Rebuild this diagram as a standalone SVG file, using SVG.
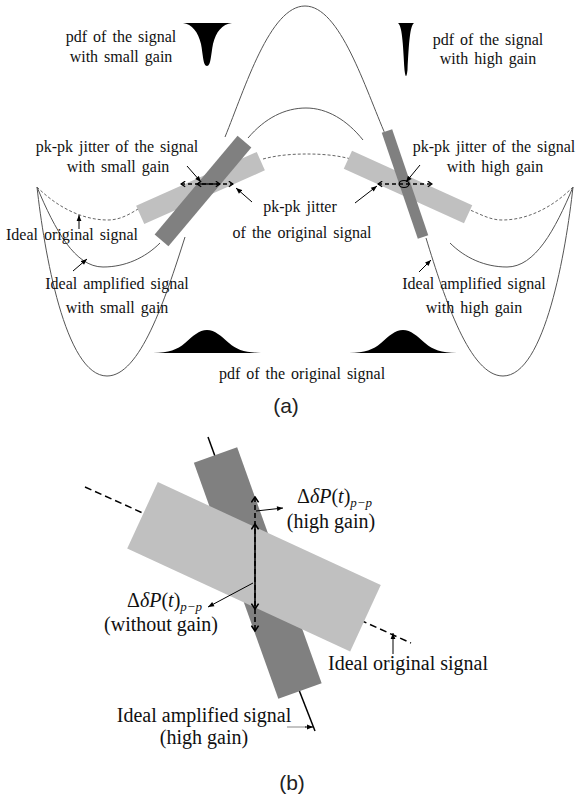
<svg xmlns="http://www.w3.org/2000/svg" width="576" height="798" viewBox="0 0 576 798">
<defs>
<style>
.t{font-family:"Liberation Serif","Times New Roman",serif;font-size:16px;fill:#111;word-spacing:2px}
.tb{font-family:"Liberation Serif","Times New Roman",serif;font-size:20px;fill:#111}
.cap{font-family:"Liberation Sans",Arial,sans-serif;font-size:21px;fill:#222}
.cv{fill:none;stroke:#555;stroke-width:1}
.dcv{fill:none;stroke:#666;stroke-width:1;stroke-dasharray:3 2}
.lb{fill:#c0c0c0}
.db{fill:#808080}
.ptr{fill:none;stroke:#000;stroke-width:1;marker-end:url(#ah)}
.dj{fill:none;stroke:#000;stroke-width:1.3;stroke-dasharray:4 3;marker-start:url(#ch);marker-end:url(#ch)}
.sj{fill:none;stroke:#000;stroke-width:1.3;marker-start:url(#ch);marker-end:url(#ch)}
.djb{fill:none;stroke:#000;stroke-width:1.6;stroke-dasharray:5 3;marker-start:url(#chb);marker-end:url(#chb)}
.sjb{fill:none;stroke:#000;stroke-width:1.6;marker-start:url(#chb);marker-end:url(#chb)}
</style>
<marker id="ah" viewBox="0 0 10 10" refX="10" refY="5" markerWidth="7" markerHeight="6" markerUnits="userSpaceOnUse" orient="auto"><path d="M0,1 L10,5 L0,9 Z" fill="#000"/></marker>
<marker id="ch" viewBox="0 0 10 10" refX="9" refY="5" markerWidth="7" markerHeight="7" markerUnits="userSpaceOnUse" orient="auto-start-reverse"><path d="M3,1 L9,5 L3,9" fill="none" stroke="#000" stroke-width="1.8"/></marker>
<marker id="chb" viewBox="0 0 10 10" refX="9" refY="5" markerWidth="9" markerHeight="9" markerUnits="userSpaceOnUse" orient="auto-start-reverse"><path d="M3,1 L9,5 L3,9" fill="none" stroke="#000" stroke-width="1.8"/></marker>
</defs>
<rect width="576" height="798" fill="#fff"/>

<!-- (a) curves -->
<g id="curve-high-gain">
<path class="cv" d="M37,187 C44,250 65,376 107,376 C140,376 165,300 185,237"/>
<path class="cv" d="M225,137 C245,88 270,6 305,6 C340,6 365,88 386,136"/>
<path class="cv" d="M573,187 C566,250 545,376 503,376 C470,376 445,300 426,238"/>
</g>
<g id="curve-small-gain">
<path class="cv" d="M37,187 C55,230 75,267 103,267 C125,267 145,258 160,243"/>
<path class="cv" d="M248,138 C265,118 285,108 306,108 C327,108 347,120 363,140"/>
<path class="cv" d="M573,187 C555,230 535,267 507,267 C485,267 465,258 450,243"/>
</g>
<g id="curve-original">
<path class="dcv" d="M37,187 C55,205 80,220 108,220 C120,220 130,214 138,209"/>
<path class="dcv" d="M263,159 C278,155 293,154 307,154 C321,154 336,155 351,159"/>
<path class="dcv" d="M573,187 C555,205 530,220 502,220 C490,220 480,214 470,210"/>
</g>

<!-- (a) bars -->
<g id="bar-left-light"><rect class="lb" x="134.5" y="178" width="132" height="20" transform="rotate(-24 200.5 188)"/></g>
<g id="bar-left-dark"><rect class="db" x="138.5" y="182" width="129" height="18" transform="rotate(-50 203 191)"/></g>
<g id="bar-right-light"><rect class="lb" x="342" y="177" width="132" height="20" transform="rotate(24.4 408 187)"/></g>
<g id="bar-right-dark"><rect class="db" x="349" y="178.5" width="112" height="11" transform="rotate(71.2 405 184)"/></g>

<!-- (a) pdf shapes -->
<g id="pdf-small-gain"><path d="M183,23 L232,23 C222,24 216,32 213,44 C211,54 211,66 207,66 C203,66 203,54 201,44 C198,32 192,24 183,23 Z" fill="#000"/></g>
<g id="pdf-high-gain"><path d="M398,23 L414,23 C410,26 409,42 407.5,70 Q406,82 404.5,70 C403,42 402,26 398,23 Z" fill="#000"/></g>
<g id="pdf-original-left"><path d="M153,353 C169,352.5 177,350 185,343 C193,336 199,330 207,330 C215,330 221,336 229,343 C237,350 245,352.5 261,353 Z" fill="#000"/></g>
<g id="pdf-original-right"><path d="M349,353 C365,352.5 373,350 381,343 C389,336 395,330 403,330 C411,330 417,336 425,343 C433,350 441,352.5 457,353 Z" fill="#000"/></g>

<!-- (b) shapes -->
<g id="b-amplified-line"><line x1="208" y1="437" x2="216" y2="459" stroke="#000" stroke-width="1.5"/><line x1="299" y1="690" x2="315" y2="731" stroke="#000" stroke-width="1.5"/></g>
<g id="b-original-line"><line x1="85" y1="487" x2="145" y2="514" stroke="#000" stroke-width="1.5" stroke-dasharray="7 4"/><line x1="360" y1="620" x2="411" y2="643" stroke="#000" stroke-width="1.5" stroke-dasharray="7 4"/></g>
<g id="b-bar-dark"><rect class="db" x="132.4" y="550" width="250.7" height="46" transform="rotate(70.3 257.75 573)"/></g>
<g id="b-bar-light"><rect class="lb" x="131.2" y="530.25" width="245.6" height="73" transform="rotate(24.8 254 566.75)"/></g>

<!-- connectors -->
<g id="connectors">
<path class="dj" d="M181,184 L233,184"/>
<path class="sj" d="M197,184 L220,184"/>
<path class="dj" d="M378,184 L432,184"/>
<ellipse cx="404" cy="184" rx="5" ry="3.5" fill="none" stroke="#000" stroke-width="1.2"/>
<path class="ptr" d="M187,166 L201,182"/>
<path class="ptr" d="M252,202 L236,188"/>
<path class="ptr" d="M420,165 L406,182"/>
<path class="ptr" d="M355,203 L377,186"/>
<path class="ptr" d="M79,229 L79,215"/>
<path class="ptr" d="M73,271 L87,259"/>
<path class="ptr" d="M419,272 L431,260"/>
<path class="djb" d="M255,497 L255,631"/>
<path class="sjb" d="M255,524 L255,609"/>
<path class="ptr" d="M256,511 L283,508"/>
<path class="ptr" d="M253,583 L208,607"/>
<path class="ptr" d="M393,654 L393,633"/>
<line x1="287" y1="727" x2="306" y2="727" stroke="#888" stroke-width="1"/>
<path class="ptr" d="M305,727 L313,727"/>
</g>

<!-- labels (a) -->
<g id="labels-a">
<text class="t" x="121" y="42" text-anchor="middle">pdf of the signal</text>
<text class="t" x="121" y="62" text-anchor="middle">with small gain</text>
<text class="t" x="488" y="45" text-anchor="middle">pdf of the signal</text>
<text class="t" x="488" y="64" text-anchor="middle">with high gain</text>
<text class="t" x="117" y="152" text-anchor="middle">pk-pk jitter of the signal</text>
<text class="t" x="118" y="172" text-anchor="middle">with small gain</text>
<text class="t" x="494" y="152" text-anchor="middle">pk-pk jitter of the signal</text>
<text class="t" x="495" y="172" text-anchor="middle">with high gain</text>
<text class="t" x="300" y="212" text-anchor="middle">pk-pk jitter</text>
<text class="t" x="302" y="238" text-anchor="middle">of the original signal</text>
<text class="t" x="6" y="240">Ideal original signal</text>
<text class="t" x="117" y="289" text-anchor="middle">Ideal amplified signal</text>
<text class="t" x="117" y="313" text-anchor="middle">with small gain</text>
<text class="t" x="474" y="289" text-anchor="middle">Ideal amplified signal</text>
<text class="t" x="474" y="313" text-anchor="middle">with high gain</text>
<text class="t" x="302" y="379" text-anchor="middle">pdf of the original signal</text>
<text class="cap" x="286" y="413" text-anchor="middle">(a)</text>
</g>

<!-- labels (b) -->
<g id="labels-b">
<text class="tb" x="297" y="503" font-size="17">Δ<tspan font-style="italic">δP</tspan>(<tspan font-style="italic">t</tspan>)<tspan font-style="italic" font-size="13" dy="4">p−p</tspan></text>
<text class="tb" x="331" y="528" text-anchor="middle">(high gain)</text>
<text class="tb" x="127" y="607" font-size="17">Δ<tspan font-style="italic">δP</tspan>(<tspan font-style="italic">t</tspan>)<tspan font-style="italic" font-size="13" dy="4">p−p</tspan></text>
<text class="tb" x="161" y="631" text-anchor="middle">(without gain)</text>
<text class="tb" x="408" y="670" text-anchor="middle">Ideal original signal</text>
<text class="tb" x="204" y="722" text-anchor="middle">Ideal amplified signal</text>
<text class="tb" x="204" y="744" text-anchor="middle">(high gain)</text>
<text class="cap" x="292" y="790" text-anchor="middle">(b)</text>
</g>
</svg>
